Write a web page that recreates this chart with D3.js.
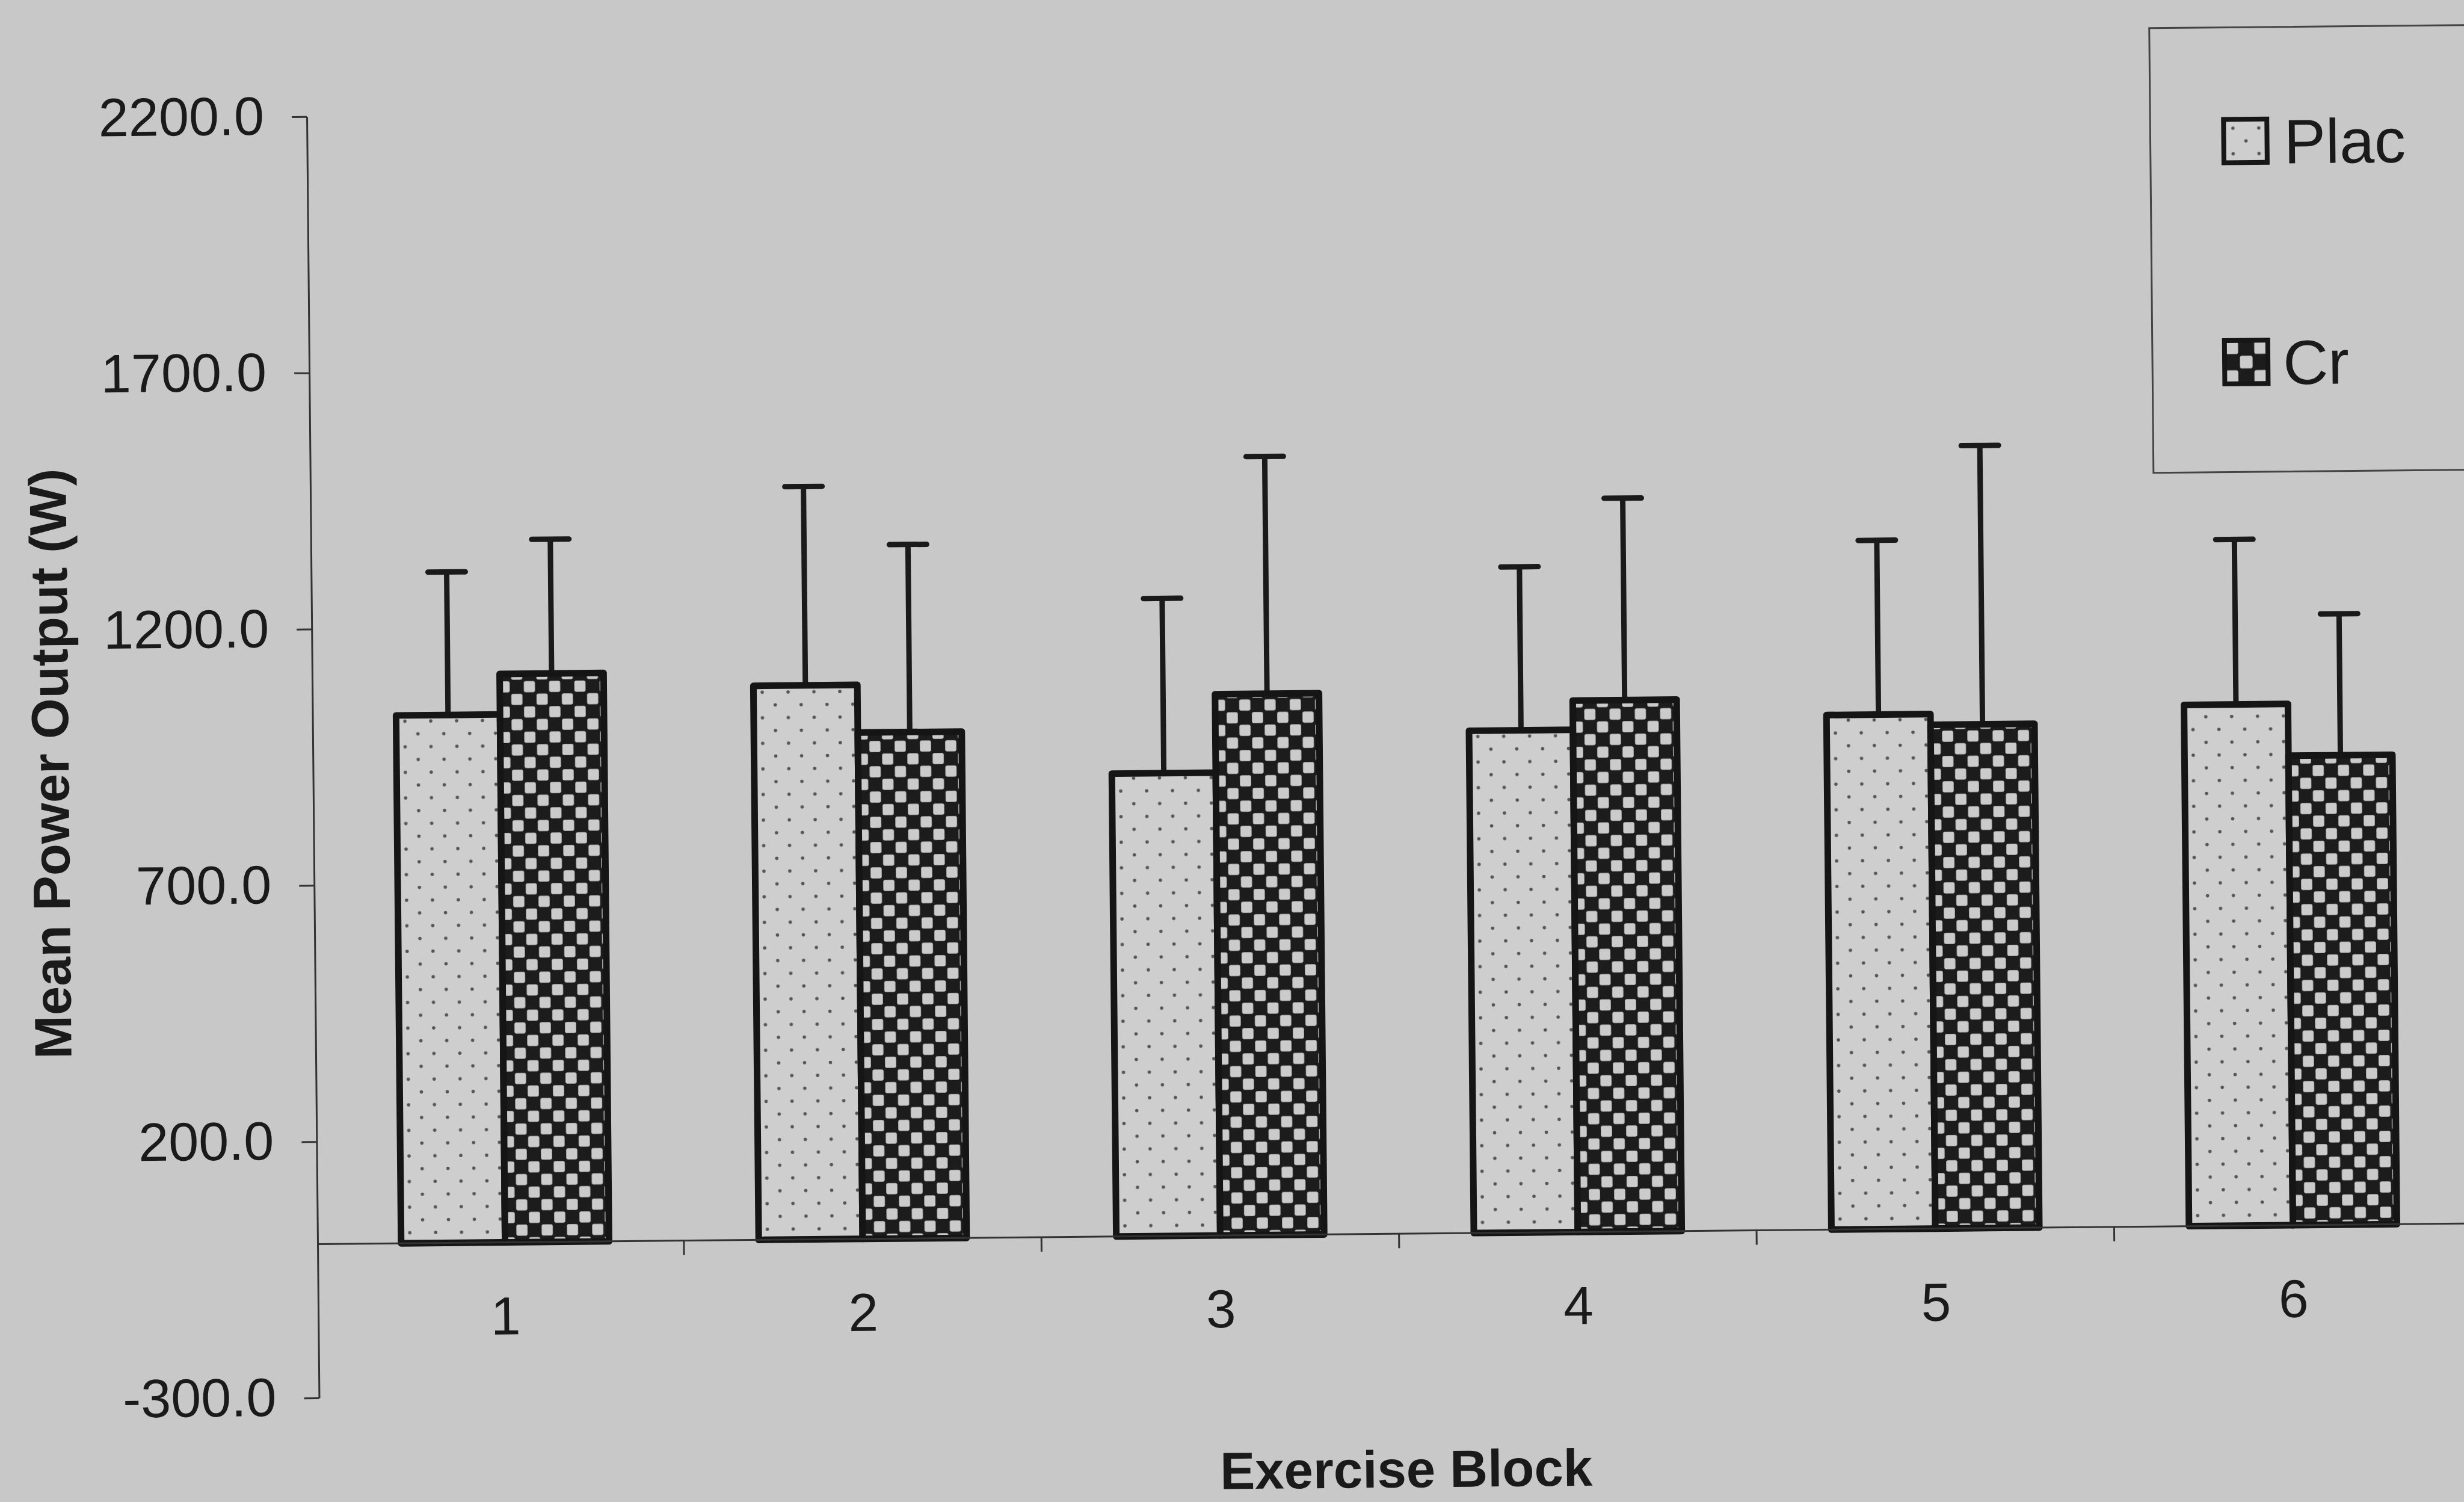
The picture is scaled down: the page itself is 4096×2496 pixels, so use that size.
<!DOCTYPE html>
<html>
<head>
<meta charset="utf-8">
<script src="https://cdn.jsdelivr.net/npm/d3@7"></script>
<style>
  html, body { margin: 0; padding: 0; background: #c8c8c8; overflow: hidden; }
  svg { display: block; }
  text { font-family: "Liberation Sans", Arial, sans-serif; fill: #1a1a1a; }
</style>
</head>
<body>
<svg id="chart" width="4096" height="2496"></svg>
<script>
// Exercise blocks and the two supplement groups
const blocks = ["1", "2", "3", "4", "5", "6"];
const seriesNames = ["Plac", "Cr"];

// Mean power output (W) per block, with SD shown as upper error bars
const placMean = [1030, 1081, 903, 980, 1004, 1017];
const placSD   = [279, 388, 341, 319, 340, 322];
const crMean   = [1109, 988, 1056, 1037, 983, 916];
const crSD     = [262, 366, 463, 394, 544, 276];

// Value-axis tick labels
const yTicks = [-300, 200, 700, 1200, 1700, 2200];

const rows = blocks.map((b, i) => ({
  block: b,
  values: [
    { series: "Plac", mean: placMean[i], sd: placSD[i] },
    { series: "Cr",   mean: crMean[i],   sd: crSD[i] }
  ]
}));

const svg = d3.select("#chart");
const W = 4096, H = 2496;

svg.append("rect").attr("width", W).attr("height", H).attr("fill", "#c8c8c8");

const defs = svg.append("defs");

// light stippled fill
const dotTileW = 43, dotTileH = 42.5;
const pDots = defs.append("pattern")
  .attr("id", "dots").attr("patternUnits", "userSpaceOnUse")
  .attr("width", dotTileW).attr("height", dotTileH);
pDots.append("rect").attr("width", dotTileW).attr("height", dotTileH).attr("fill", "#cecece");
pDots.append("circle").attr("cx", 10).attr("cy", 10).attr("r", 2.8).attr("fill", "#555");
pDots.append("circle").attr("cx", 10 + dotTileW / 2).attr("cy", 10 + dotTileH / 2).attr("r", 2.8).attr("fill", "#555");

// checkerboard fill
function checker(id, cell, ox, oy) {
  const p = defs.append("pattern")
    .attr("id", id).attr("patternUnits", "userSpaceOnUse")
    .attr("x", ox).attr("y", oy)
    .attr("width", cell * 2).attr("height", cell * 2);
  p.append("rect").attr("width", cell * 2).attr("height", cell * 2).attr("fill", "#1c1c1c");
  const inset = cell * 0.06;
  [[0, 0], [cell, cell]].forEach(([cx, cy]) => {
    p.append("rect")
      .attr("x", cx + inset).attr("y", cy + inset)
      .attr("width", cell - 2 * inset).attr("height", cell - 2 * inset)
      .attr("rx", cell * 0.15)
      .attr("fill", "#cbcbcb");
  });
}
checker("checks", 21, 0, 0);

const fills = { Plac: "url(#dots)", Cr: "url(#checks)" };

// Plot frame (the whole figure sits slightly tilted)
const yAxisX = 528;
const y = d3.scaleLinear().domain([-300, 2200]).range([2323, 193.7]);
const x = d3.scaleBand().domain(blocks).range([542.4, 4109]).paddingInner(0).paddingOuter(0);
const xs = d3.scaleBand().domain(seriesNames).range([0, x.bandwidth()]).paddingInner(0).paddingOuter(0.72);

const g = svg.append("g").attr("transform", `rotate(-0.55, ${yAxisX}, ${y(0)})`);

// Y axis
const yAxis = d3.axisLeft(y)
  .tickValues(yTicks)
  .tickFormat(d => d.toFixed(1))
  .tickSize(25)
  .tickSizeOuter(0)
  .tickPadding(46);
const gy = g.append("g").attr("transform", `translate(${yAxisX},0)`).call(yAxis);
gy.select(".domain").attr("stroke", "#333").attr("stroke-width", 3);
gy.selectAll(".tick line").attr("stroke", "#333").attr("stroke-width", 3);
gy.selectAll(".tick text").attr("font-size", 90).attr("fill", "#1a1a1a")
  .style("font-family", '"Liberation Sans", Arial, sans-serif');

// Bars
const groups = g.selectAll(".grp").data(rows).join("g")
  .attr("class", "grp")
  .attr("transform", d => `translate(${x(d.block)},0)`);

// error bars (upper only), drawn beneath the bars
groups.selectAll(".err").data(d => d.values).join("line")
  .attr("class", "err")
  .attr("x1", d => xs(d.series) + xs.bandwidth() / 2)
  .attr("x2", d => xs(d.series) + xs.bandwidth() / 2)
  .attr("y1", d => y(d.mean))
  .attr("y2", d => y(d.mean + d.sd))
  .attr("stroke", "#1a1a1a").attr("stroke-width", 9);

groups.selectAll(".cap").data(d => d.values).join("line")
  .attr("class", "cap")
  .attr("x1", d => xs(d.series) + xs.bandwidth() / 2 - 31)
  .attr("x2", d => xs(d.series) + xs.bandwidth() / 2 + 31)
  .attr("y1", d => y(d.mean + d.sd))
  .attr("y2", d => y(d.mean + d.sd))
  .attr("stroke", "#1a1a1a").attr("stroke-width", 9).attr("stroke-linecap", "round");

groups.selectAll(".bar").data(d => d.values).join("rect")
  .attr("class", "bar")
  .attr("x", d => xs(d.series))
  .attr("width", xs.bandwidth())
  .attr("y", d => y(d.mean))
  .attr("height", d => y(0) - y(d.mean))
  .attr("fill", d => fills[d.series])
  .attr("stroke", "#151515").attr("stroke-width", 11)
  .attr("stroke-linejoin", "round");

// Category axis along the zero line
g.append("line")
  .attr("x1", yAxisX).attr("x2", 4300)
  .attr("y1", y(0)).attr("y2", y(0))
  .attr("stroke", "#333").attr("stroke-width", 3);

g.selectAll(".xtick").data(blocks.slice(1)).join("line")
  .attr("class", "xtick")
  .attr("x1", d => x(d)).attr("x2", d => x(d))
  .attr("y1", y(0)).attr("y2", y(0) + 24)
  .attr("stroke", "#333").attr("stroke-width", 3);

const xAxis = d3.axisBottom(x).tickSize(0).tickSizeOuter(0);
const gx = g.append("g").attr("transform", `translate(0,${y(0)})`).call(xAxis);
gx.select(".domain").remove();
gx.selectAll(".tick text")
  .attr("y", 153).attr("dy", null)
  .attr("font-size", 89).attr("fill", "#1a1a1a")
  .style("font-family", '"Liberation Sans", Arial, sans-serif');

// Axis titles
g.append("text")
  .attr("x", 2334).attr("y", 2489)
  .attr("text-anchor", "middle")
  .attr("font-size", 87).attr("font-weight", "bold")
  .text("Exercise Block");

g.append("text")
  .attr("transform", "translate(121.7,1265) rotate(-90)")
  .attr("text-anchor", "middle")
  .attr("font-size", 87).attr("font-weight", "bold")
  .text("Mean Power Output (W)");

// Legend
const legend = g.append("g");
legend.append("rect")
  .attr("x", 3592).attr("y", 76)
  .attr("width", 700).attr("height", 739)
  .attr("fill", "none").attr("stroke", "#444").attr("stroke-width", 3);

const legendItems = [
  { name: "Plac", cx: 3750, cy: 265, tx: 3814, ty: 303 },
  { name: "Cr",   cx: 3748, cy: 632.5, tx: 3809, ty: 670 }
];
const sym = 72;
checker("checksLegend", sym / 3, 3748 - sym / 2, 632.5 - sym / 2);
const legendFill = { Plac: "url(#dots)", Cr: "url(#checksLegend)" };

legend.selectAll(".sym").data(legendItems).join("rect")
  .attr("class", "sym")
  .attr("x", d => d.cx - sym / 2).attr("y", d => d.cy - sym / 2)
  .attr("width", sym).attr("height", sym)
  .attr("fill", d => legendFill[d.name])
  .attr("stroke", "#161616").attr("stroke-width", 8);

legend.selectAll(".lab").data(legendItems).join("text")
  .attr("class", "lab")
  .attr("x", d => d.tx).attr("y", d => d.ty)
  .attr("font-size", 104)
  .text(d => d.name);
</script>
</body>
</html>
